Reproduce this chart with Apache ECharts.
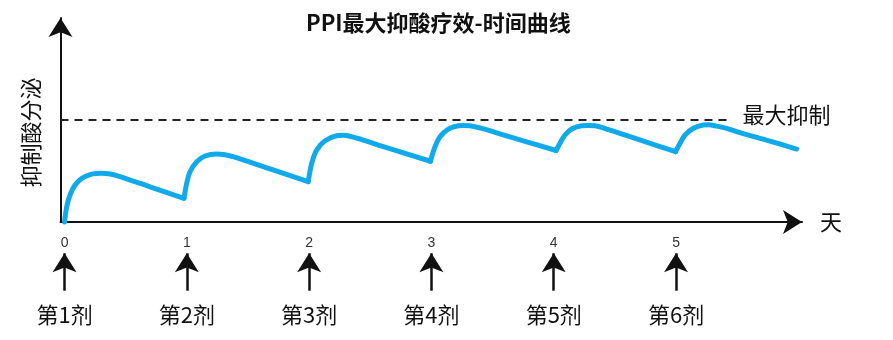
<!DOCTYPE html>
<html>
<head>
<meta charset="utf-8">
<script src="https://cdn.jsdelivr.net/npm/echarts@6/dist/echarts.min.js"></script>
<style>html,body{margin:0;padding:0;background:#fff;}#c{width:893px;height:340px;}</style>
</head>
<body>
<div id="c"></div>
<script>
// ---- data ----
const titleText = 'PPI最大抑酸疗效-时间曲线';
const yName = '抑制酸分泌';
const xName = '天';
const maxLabel = '最大抑制';
const maxValue = 100;          // level of the dashed "maximum suppression" line
const maxLineEnd = 5.417;      // day where the dashed line stops
const dayTicks = [0, 1, 2, 3, 4, 5];
const dayTickLabels = ['0', '1', '2', '3', '4', '5'];
const doseDays = [0, 1, 2, 3, 4, 5];
const doseLabels = ['第1剂', '第2剂', '第3剂', '第4剂', '第5剂', '第6剂'];

// curve, one array per dosing interval: [day, acid suppression]
const cycle1 = [[0, 0], [0.018, 14.9], [0.045, 26.3], [0.086, 36.0], [0.141, 42.6], [0.222, 46.6], [0.304, 47.5], [0.372, 46.8], [0.440, 44.7], [0.699, 34.3], [0.977, 23.1]];
const cycle2 = [[0.977, 23.1], [0.999, 37.7], [1.026, 49.0], [1.081, 58.8], [1.149, 64.3], [1.244, 66.3], [1.312, 65.6], [1.386, 63.4], [1.680, 51.7], [1.993, 39.3]];
const cycle3 = [[1.993, 39.3], [2.021, 57.2], [2.062, 70.2], [2.130, 79.2], [2.226, 84.1], [2.277, 84.5], [2.334, 83.6], [2.430, 80.3], [2.607, 73.5], [2.993, 59.2]];
const cycle4 = [[2.993, 59.2], [3.024, 71.8], [3.070, 83.1], [3.138, 90.6], [3.220, 93.8], [3.266, 94.1], [3.316, 93.8], [3.411, 91.3], [3.520, 87.4], [3.765, 78.6], [4.019, 69.7]];
const cycle5 = [[4.019, 69.7], [4.051, 76.7], [4.092, 84.8], [4.147, 90.6], [4.229, 93.8], [4.281, 94.1], [4.338, 93.8], [4.433, 90.6], [4.528, 86.9], [4.746, 78.3], [4.996, 68.5]];
const cycle6 = [[4.996, 68.5], [5.033, 76.7], [5.074, 84.8], [5.142, 91.3], [5.224, 94.5], [5.270, 94.7], [5.319, 93.8], [5.415, 91.3], [5.523, 87.1], [5.768, 78.9], [5.986, 71.1]];
const cycles = [cycle1, cycle2, cycle3, cycle4, cycle5, cycle6];

// ---- chart ----
const FONT = '"Noto Sans CJK SC", "Noto Sans", sans-serif';
const INK = '#111';
const CURVE = '#10aaea';
const XMIN = -0.033, XMAX = 6.030;

const chart = echarts.init(document.getElementById('c'), null, {renderer: 'canvas'});

const curveSeries = cycles.map((c, i) => ({
  type: 'line',
  xAxisIndex: 0, yAxisIndex: 0,
  data: c,
  smooth: 0.35,
  symbol: 'none',
  clip: false,
  silent: true,
  lineStyle: {color: CURVE, width: 5, cap: 'round', join: 'round'},
  z: 3
}));

curveSeries[0].markLine = {
  silent: true,
  symbol: ['none', 'none'],
  lineStyle: {color: '#222', width: 2, type: [8, 6]},
  label: {show: false},
  data: [[{coord: [XMIN, maxValue]}, {coord: [maxLineEnd, maxValue]}]]
};
curveSeries[0].markPoint = {
  silent: true,
  symbol: 'circle',
  symbolSize: 1,
  itemStyle: {color: 'rgba(0,0,0,0)'},
  label: {
    show: true, position: 'right', distance: 15, offset: [0, -5],
    formatter: maxLabel,
    fontSize: 22, color: INK, fontFamily: FONT
  },
  data: [{coord: [maxLineEnd, maxValue]}]
};

const doseSeries = {
  type: 'line',
  xAxisIndex: 1, yAxisIndex: 1,
  data: [],
  symbol: 'none',
  silent: true,
  markLine: {
    silent: true,
    symbol: ['none', 'arrow'],
    symbolSize: [18, 19],
    lineStyle: {color: INK, width: 2.5, type: 'solid'},
    label: {show: false},
    data: doseDays.map(d => [{coord: [d, 0]}, {coord: [d, 1]}])
  }
};

chart.setOption({
  backgroundColor: '#fff',
  animation: false,
  title: {
    text: titleText,
    left: 301, top: 7,
    textStyle: {fontSize: 22, fontWeight: 'bold', color: INK, fontFamily: FONT}
  },
  grid: [
    {left: 60.5, right: 91, top: 18, bottom: 118},
    {left: 60.5, right: 91, top: 253.3, bottom: 49.3}
  ],
  xAxis: [
    {
      type: 'value', gridIndex: 0, min: XMIN, max: XMAX,
      name: xName, nameLocation: 'end', nameGap: 18,
      nameTextStyle: {fontSize: 22, color: INK, fontFamily: FONT},
      axisLine: {show: true, onZero: false, symbol: ['none', 'arrow'], symbolSize: [18, 19],
                 lineStyle: {color: INK, width: 2}},
      axisTick: {show: false},
      splitLine: {show: false},
      axisLabel: {
        show: true, customValues: dayTicks, margin: 14,
        formatter: v => dayTickLabels[dayTicks.indexOf(Math.round(v))] ?? '',
        fontSize: 14, color: '#333', fontFamily: '"Liberation Sans", Arial, sans-serif'
      }
    },
    {
      type: 'value', gridIndex: 1, min: XMIN, max: XMAX,
      axisLine: {show: false},
      axisTick: {show: false},
      splitLine: {show: false},
      axisLabel: {
        show: true, customValues: doseDays, margin: 13,
        formatter: v => doseLabels[doseDays.indexOf(Math.round(v))] ?? '',
        fontSize: 22, color: INK, fontFamily: FONT
      }
    }
  ],
  yAxis: [
    {
      type: 'value', gridIndex: 0, min: 0, max: 198.8,
      name: yName, nameLocation: 'middle', nameRotate: 90, nameGap: 19,
      nameTextStyle: {fontSize: 22, color: INK, fontFamily: FONT, padding: [0, 25, 0, 0]},
      axisLine: {show: true, onZero: false, symbol: ['none', 'arrow'], symbolSize: [18, 19],
                 lineStyle: {color: INK, width: 2}},
      axisTick: {show: false},
      axisLabel: {show: false},
      splitLine: {show: false}
    },
    {
      type: 'value', gridIndex: 1, min: 0, max: 1,
      axisLine: {show: false}, axisTick: {show: false},
      axisLabel: {show: false}, splitLine: {show: false}
    }
  ],
  series: curveSeries.concat([doseSeries])
});
</script>
</body>
</html>
